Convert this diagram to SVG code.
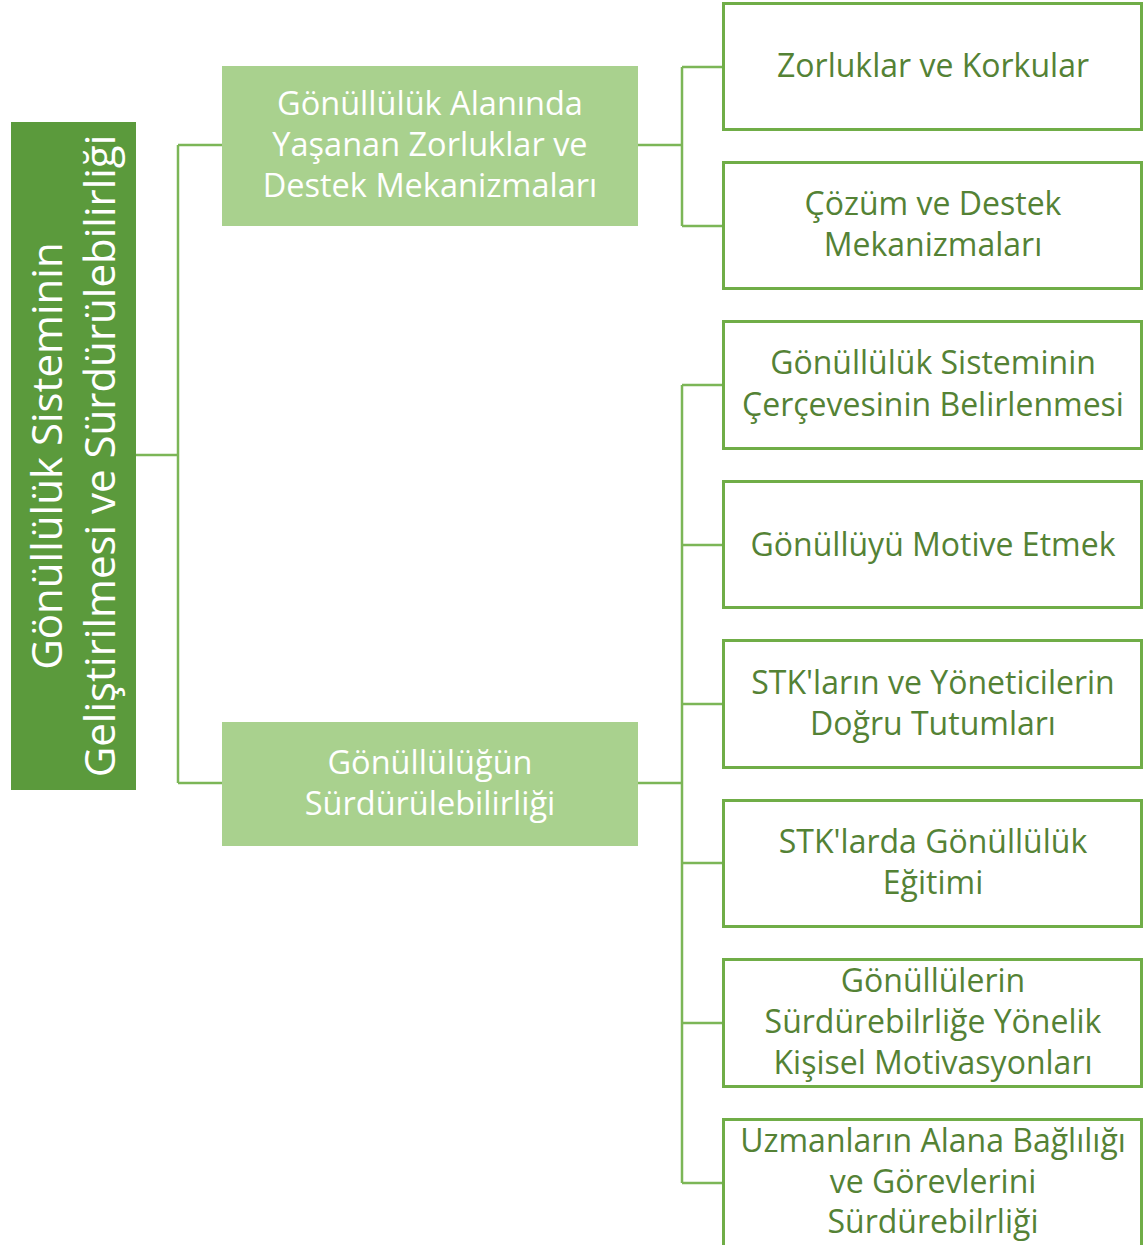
<svg xmlns="http://www.w3.org/2000/svg" width="1144" height="1245" viewBox="0 0 1144 1245">
<style>
.root{fill:#5b9a3c}
.mid{fill:#a9d18e}
.leaf{fill:#ffffff;stroke:#70ad47;stroke-width:3}
.conn{fill:none;stroke:#7cb657;stroke-width:2.5}
.wt{font-family:"Open Sans",Lato,sans-serif;fill:#ffffff;text-anchor:middle}
.gt{font-family:"Open Sans",Lato,sans-serif;fill:#548235;text-anchor:middle;font-size:32px}
</style>
<rect width="1144" height="1245" fill="#ffffff"/>
<g id="connectors">
<path class="conn" d="M136,455 H178 M178,145 V783 M178,145 H222 M178,783 H222"/>
<path class="conn" d="M638,145 H682 M682,67 V226 M682,67 H723 M682,226 H723"/>
<path class="conn" d="M638,783 H682 M682,385 V1183 M682,385 H723 M682,545 H723 M682,704 H723 M682,863 H723 M682,1023 H723 M682,1183 H723"/>
</g>
<g id="root">
<rect class="root" x="11" y="122" width="125" height="668"/>
<text class="wt" font-size="42" transform="translate(62,456) rotate(-90)">Gönüllülük Sisteminin</text>
<text class="wt" font-size="42" transform="translate(115,456) rotate(-90)">Geliştirilmesi ve Sürdürülebilirliği</text>
</g>
<g id="mid1">
<rect class="mid" x="222" y="66" width="416" height="160"/>
<text class="wt" font-size="32.500" x="430" y="115">Gönüllülük Alanında</text>
<text class="wt" font-size="32.500" x="430" y="156">Yaşanan Zorluklar ve</text>
<text class="wt" font-size="32.500" x="430" y="197">Destek Mekanizmaları</text>
</g>
<g id="mid2">
<rect class="mid" x="222" y="722" width="416" height="124"/>
<text class="wt" font-size="32.500" x="430" y="774">Gönüllülüğün</text>
<text class="wt" font-size="32.500" x="430" y="815">Sürdürülebilirliği</text>
</g>
<g id="leaf1">
<rect class="leaf" x="723.500" y="3.500" width="418" height="126"/>
<text class="gt" x="933" y="77">Zorluklar ve Korkular</text>
</g>
<g id="leaf2">
<rect class="leaf" x="723.500" y="162.500" width="418" height="126"/>
<text class="gt" x="933" y="215">Çözüm ve Destek</text>
<text class="gt" x="933" y="256">Mekanizmaları</text>
</g>
<g id="leaf3">
<rect class="leaf" x="723.500" y="321.500" width="418" height="127"/>
<text class="gt" x="933" y="374">Gönüllülük Sisteminin</text>
<text class="gt" x="933" y="416">Çerçevesinin Belirlenmesi</text>
</g>
<g id="leaf4">
<rect class="leaf" x="723.500" y="481.500" width="418" height="126"/>
<text class="gt" x="933" y="556">Gönüllüyü Motive Etmek</text>
</g>
<g id="leaf5">
<rect class="leaf" x="723.500" y="640.500" width="418" height="127"/>
<text class="gt" x="933" y="694">STK'ların ve Yöneticilerin</text>
<text class="gt" x="933" y="735">Doğru Tutumları</text>
</g>
<g id="leaf6">
<rect class="leaf" x="723.500" y="800.500" width="418" height="126"/>
<text class="gt" x="933" y="853">STK'larda Gönüllülük</text>
<text class="gt" x="933" y="894">Eğitimi</text>
</g>
<g id="leaf7">
<rect class="leaf" x="723.500" y="959.500" width="418" height="127"/>
<text class="gt" x="933" y="992">Gönüllülerin</text>
<text class="gt" x="933" y="1033">Sürdürebilrliğe Yönelik</text>
<text class="gt" x="933" y="1074">Kişisel Motivasyonları</text>
</g>
<g id="leaf8">
<rect class="leaf" x="723.500" y="1119.500" width="418" height="140"/>
<text class="gt" x="933" y="1152">Uzmanların Alana Bağlılığı</text>
<text class="gt" x="933" y="1193">ve Görevlerini</text>
<text class="gt" x="933" y="1233">Sürdürebilrliği</text>
</g>
</svg>
